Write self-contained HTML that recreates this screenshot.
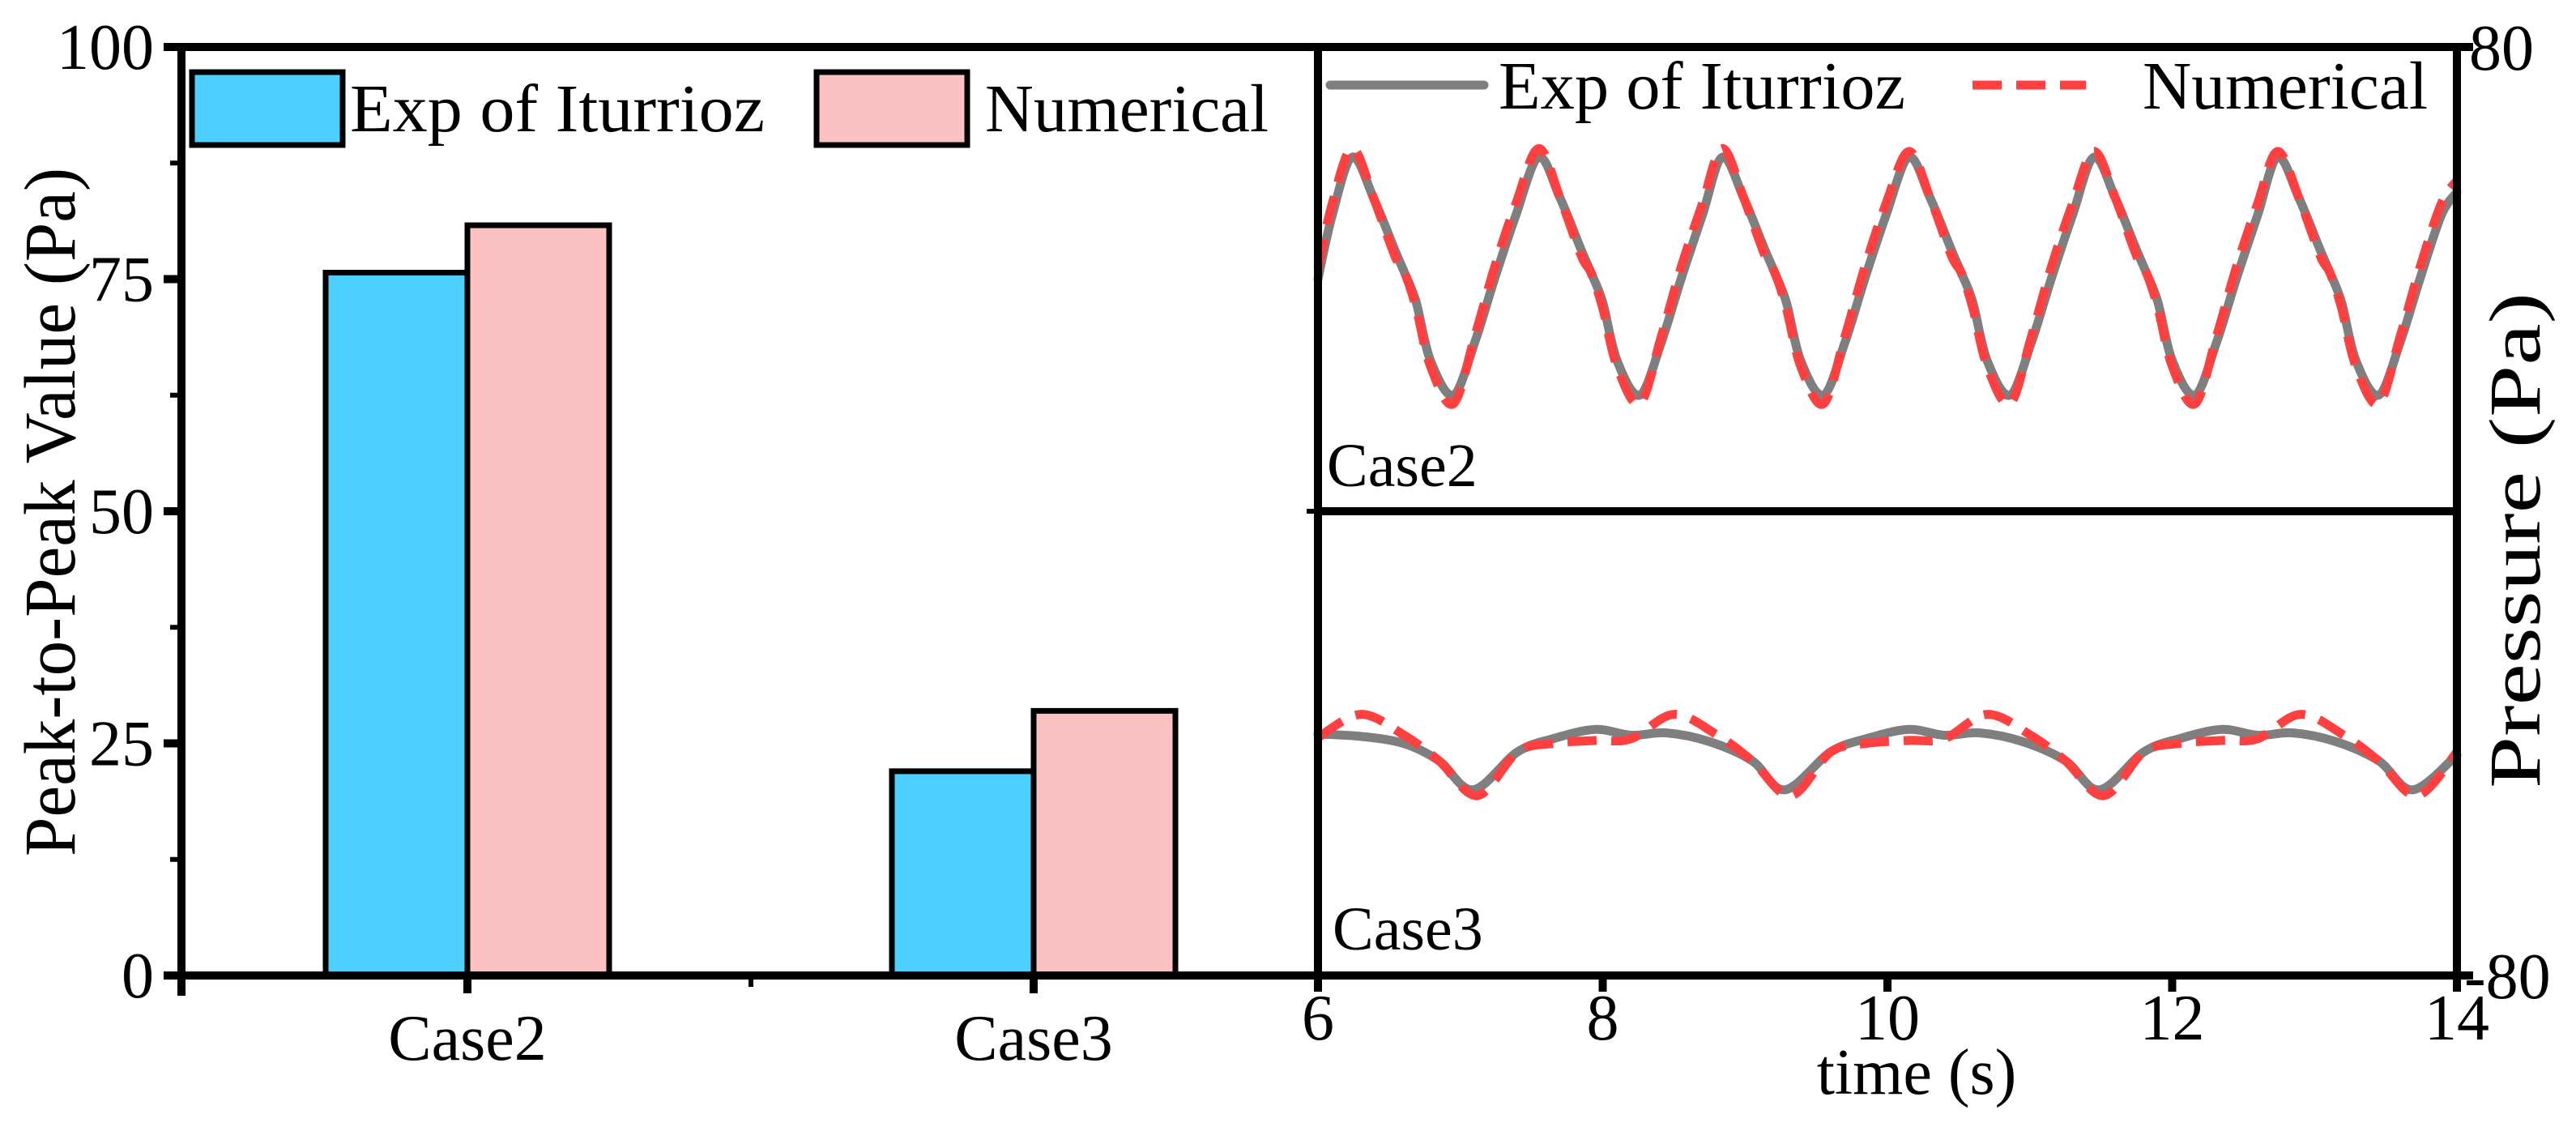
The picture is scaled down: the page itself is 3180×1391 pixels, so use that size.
<!DOCTYPE html>
<html><head><meta charset="utf-8"><style>
html,body{margin:0;padding:0;background:#fff;}
svg{display:block;font-family:"Liberation Serif",serif;}
</style></head><body>
<svg id="fig" width="3180" height="1391" viewBox="0 0 3180 1391" xmlns="http://www.w3.org/2000/svg">
<g id="bars"></g>
<g id="lines"></g>
<g id="frame"></g>
</svg>
<script>
// ---- bar chart data ----
const barCategories = ["Case2", "Case3"];
const barExp = [75.7, 22.0];
const barNum = [80.8, 28.5];
const barTicks = [0, 25, 50, 75, 100];
// ---- line chart data ----
const xTicks = [6, 8, 10, 12, 14];
const c2Time = [6.0,6.1,6.24,6.39,6.54,6.61,6.69,6.79,6.95,7.10,7.24,7.39,7.55,7.70,7.85,7.92,8.00,8.10,8.26,8.41,8.55,8.70,8.84,8.99,9.14,9.21,9.29,9.39,9.55,9.70,9.84,9.99,10.15,10.30,10.45,10.52,10.60,10.70,10.86,11.01,11.15,11.30,11.45,11.60,11.75,11.82,11.90,12.00,12.16,12.31,12.45,12.60,12.74,12.89,13.04,13.11,13.19,13.29,13.45,13.60,13.74,13.89,14.0];
const c2Exp = [0,11,21,14,5,1,-4,-14,-20,-11,0,11,21,14,5,1,-4,-14,-20,-11,0,11,21,14,5,1,-4,-14,-20,-11,0,11,21,14,5,1,-4,-14,-20,-11,0,11,21,14,5,1,-4,-14,-20,-11,0,11,21,14,5,1,-4,-14,-20,-11,0,11,15];
const c2Num = [2,13,22.5,14,4,1,-5,-15,-21.5,-10,2,13,22.5,14,4,1,-5,-15,-21.5,-10,2,13,22.5,14,4,1,-5,-15,-21.5,-10,2,13,22,14,4,1,-5,-15,-21.5,-10,2,13,22,14,4,1,-5,-15,-21.5,-10,2,13,22,14,4,1,-5,-15,-21.5,-10,2,13,17];
const c3ExpTime = [6.0,6.3,6.6,6.85,7.09,7.4,7.65,7.95,8.2,8.45,8.75,9.05,9.28,9.6,9.85,10.15,10.4,10.65,10.95,11.25,11.49,11.8,12.05,12.35,12.6,12.85,13.15,13.45,13.69,14.0];
const c3Exp = [1.6,1.2,0,-3,-8,-1.5,0.8,2.4,1.4,1.8,0.3,-3,-8,-1.5,0.8,2.4,1.4,1.8,0.3,-3,-8,-1.5,0.8,2.4,1.4,1.8,0.3,-3,-8,-2];
const c3NumTime = [6.0,6.3,6.6,6.85,7.12,7.4,7.65,7.95,8.2,8.5,8.8,9.05,9.32,9.6,9.85,10.15,10.4,10.7,11.0,11.25,11.52,11.8,12.05,12.35,12.6,12.9,13.2,13.45,13.72,14.0];
const c3Num = [1,5,1.5,-3,-9,-1.5,0,0.5,0.8,5,1.5,-3,-9,-1.5,0,0.5,0.8,5,1.5,-3,-9,-1.5,0,0.5,0.8,5,1.5,-3,-9,-1.5];

const NS = "http://www.w3.org/2000/svg";
function mk(tag, attrs, parent, text){const e=document.createElementNS(NS,tag);for(const k in attrs)e.setAttribute(k,attrs[k]);if(text!==undefined)e.textContent=text;parent.appendChild(e);return e;}
const bars=document.getElementById('bars'), lines=document.getElementById('lines'), frame=document.getElementById('frame');
const L=224, R=1627, T=58, B=1204, RR=3033, MID=631;
const yB = v => B - v/100*(B-T);
const xL = t => R + (t-6)/8*(RR-R);
const yTop = v => (T+MID)/2 - v/80*(MID-T);
const yBot = v => (MID+B)/2 - v/80*(B-MID);
const groupX = [577, 1276];
const bw = 175;

barCategories.forEach((c,i)=>{
  const r1=mk('rect',{x:groupX[i]-bw,y:yB(barExp[i]),width:bw,height:B-yB(barExp[i]),fill:'#4dcfff',stroke:'#000','stroke-width':7},bars);
  
  
  const r2=mk('rect',{x:groupX[i],y:yB(barNum[i]),width:bw,height:B-yB(barNum[i]),fill:'#fcc2c2',stroke:'#000','stroke-width':7},bars);
  
  
  const t=mk('text',{x:groupX[i],y:1308,'font-size':80,'text-anchor':'middle'},frame,c);
  
  
});

function smooth(xs, ys){
  const p=xs.map((x,i)=>[x,ys[i]]);let d='M'+p[0][0].toFixed(1)+','+p[0][1].toFixed(1);
  for(let i=0;i<p.length-1;i++){const p0=p[Math.max(0,i-1)],p1=p[i],p2=p[i+1],p3=p[Math.min(p.length-1,i+2)];
    const c1=[p1[0]+(p2[0]-p0[0])/6,p1[1]+(p2[1]-p0[1])/6],c2=[p2[0]-(p3[0]-p1[0])/6,p2[1]-(p3[1]-p1[1])/6];
    d+=`C${c1[0].toFixed(1)},${c1[1].toFixed(1)} ${c2[0].toFixed(1)},${c2[1].toFixed(1)} ${p2[0].toFixed(1)},${p2[1].toFixed(1)}`;}
  return d;}
function series(ts, vs, yf, dashed, name){
  const e=mk('path',{d:smooth(ts.map(xL),vs.map(yf)),fill:'none',stroke:dashed?'#ff4040':'#7f7f7f','stroke-width':11,'stroke-linejoin':'round','stroke-linecap':dashed?'butt':'round'},lines);
  if(dashed)e.setAttribute('stroke-dasharray','36 18');
  
  
}
series(c2Time,c2Exp,yTop,false,'case2-exp-line');
series(c2Time,c2Num,yTop,true,'case2-num-line');
series(c3ExpTime,c3Exp,yBot,false,'case3-exp-line');
series(c3NumTime,c3Num,yBot,true,'case3-num-line');

function ln(x1,y1,x2,y2,n,w){const e=mk('line',{x1,y1,x2,y2,stroke:'#000','stroke-width':w||10},frame);}
ln(L,T,R,T,'bar-top-border');ln(L,T-5,L,B+25,'bar-y-axis');ln(L-5,B,R,B,'bar-x-axis');
ln(R,T-5,R,B+5,'panel-divider');ln(R,T,RR,T,'line-top-border');ln(RR,T-5,RR,B+5,'line-right-axis');
ln(R,MID,RR,MID,'panel-separator');ln(R,B,RR,B,'line-x-axis');
barTicks.forEach(v=>{ln(L-22,yB(v),L,yB(v),'y-tick');
  const t=mk('text',{x:190,y:yB(v)+27,'font-size':80,'text-anchor':'end'},frame,String(v));
  });
[12.5,37.5,62.5,87.5].forEach(v=>ln(L-14,yB(v),L,yB(v),'y-minor-tick',6));
groupX.forEach(x=>ln(x,B,x,B+22,'x-tick'));ln(927,B,927,B+14,'x-minor-tick',6);
ln(R-14,MID,R,MID,'divider-tick',6);
xTicks.forEach(v=>{ln(xL(v),B,xL(v),B+20,'time-tick');
  const t=mk('text',{x:xL(v),y:1283,'font-size':80,'text-anchor':'middle'},frame,String(v));
  });
ln(RR,T,RR+20,T,'right-tick');ln(RR,B,RR+20,B,'right-tick');
</script>
<svg style="position:absolute;left:0;top:0" width="3180" height="1391" font-family="Liberation Serif, serif">
<text x="3048" y="86" font-size="80">80</text>
<text x="3042" y="1232" font-size="80">-80</text>
<text transform="translate(92,632) rotate(-90)" font-size="90" text-anchor="middle" textLength="850" lengthAdjust="spacingAndGlyphs">Peak-to-Peak Value (Pa)</text>
<text transform="translate(3135,667) rotate(-90)" font-size="90" text-anchor="middle" textLength="612" lengthAdjust="spacingAndGlyphs">Pressure (Pa)</text>
<text x="2366" y="1350" font-size="80" text-anchor="middle">time (s)</text>
<text x="1638" y="600" font-size="76">Case2</text>
<text x="1645" y="1172" font-size="76">Case3</text>
<g>
<rect x="237" y="89" width="186" height="90" fill="#4dcfff" stroke="#000" stroke-width="7"/>
<text x="432" y="162" font-size="84" textLength="512" lengthAdjust="spacingAndGlyphs">Exp of Iturrioz</text>
<rect x="1008" y="89" width="186" height="90" fill="#fcc2c2" stroke="#000" stroke-width="7"/>
<text x="1216" y="162" font-size="84" textLength="350" lengthAdjust="spacingAndGlyphs">Numerical</text>
</g>
<g>
<line x1="1642" y1="105" x2="1832" y2="105" stroke="#7f7f7f" stroke-width="11" stroke-linecap="round"/>
<text x="1850" y="134" font-size="84" textLength="502" lengthAdjust="spacingAndGlyphs">Exp of Iturrioz</text>
<line x1="2435" y1="105" x2="2575" y2="105" stroke="#ff4040" stroke-width="11" stroke-dasharray="36 18"/>
<text x="2645" y="134" font-size="84" textLength="352" lengthAdjust="spacingAndGlyphs">Numerical</text>
</g>
</svg>
</body></html>
